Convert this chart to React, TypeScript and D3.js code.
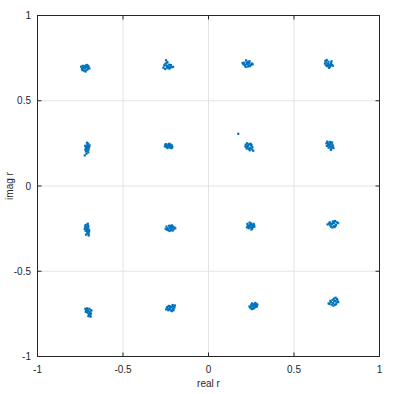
import React from "react";
import * as d3 from "d3";

// cluster centers (real, imag)
const centersRe = [
  -0.722, -0.243, 0.225, 0.699,
  -0.711, -0.237, 0.231, 0.705,
  -0.711, -0.225, 0.243, 0.722,
  -0.705, -0.225, 0.26, 0.728,
];
const centersIm = [
  0.692, 0.704, 0.716, 0.716,
  0.223, 0.235, 0.235, 0.24,
  -0.252, -0.246, -0.235, -0.223,
  -0.733, -0.716, -0.704, -0.686,
];

// scatter of received samples around each center, in units of 1/780 (dRe, dIm pairs)
const scatter: number[][] = [
  [0,0, 8,4, -8,2, 12,-6, -14,-4, 4,12, -4,-12, 16,8, -18,6, 6,-10, 20,-2, -10,10, 2,-16, 10,14, -6,-2, 14,2, -12,-10, 0,8],
  [0,0, -6,10, 8,-4, -12,2, 14,-6, 2,18, -4,26, 22,-6, -16,-8, 10,6, -8,-14, 18,4, 4,-10, -2,12, 28,-4, 12,-12, -10,6, 0,-6],
  [0,0, 10,4, -12,6, 18,-4, -8,-8, 4,-12, -16,-2, 22,2, 6,10, -4,16, 14,-10, -20,4, 8,-6, 0,6, 26,-2, -6,-14, 12,12, -10,-4],
  [0,0, -8,6, 6,-4, -12,14, 10,-10, 18,-6, -4,-10, 2,10, 14,4, -14,2, 22,-8, 8,-14, -10,-6, 4,-18, 16,12, -6,18, 0,-8, 12,0],
  [0,0, 4,8, -6,-4, 2,14, -4,-16, 8,-6, -2,-26, -10,-34, 6,20, 10,4, -8,10, 4,-12, 0,24, -4,4, 6,-20, 12,12, -6,-10, 2,-4],
  [0,0, 8,2, -10,4, 14,-4, -6,-6, 4,8, 18,2, -14,-2, 10,-8, -2,-10, 6,10, 20,-6, -8,8, 2,-4, 12,6, -4,2, 16,-10, -12,6],
  [0,0, 6,8, -8,-4, 10,-10, -4,12, 14,2, -10,6, 4,-14, 18,-16, 24,-22, 8,-20, -2,-8, 12,10, -6,-12, 20,-6, 2,4, 16,4, -12,-2],
  [0,0, -6,10, 8,-6, -10,-4, 12,4, 4,14, -2,-12, 16,-8, 20,-14, -8,16, 10,-16, 6,6, -12,8, 2,-8, 14,12, -4,2, 18,-2, 8,-22],
  [0,0, 6,6, -6,-8, 4,-16, -8,10, 8,-22, 2,20, -4,-26, 10,-4, -10,0, 6,14, 0,-10, 8,-30, -2,8, 4,24, 10,-12, -6,18, 2,-20],
  [0,0, 10,4, -10,-2, 16,-6, -16,6, 4,-10, -4,10, 20,2, -20,-4, 8,12, 12,-12, -8,-10, 2,8, 24,-2, -14,-8, 6,-4, 14,6, -2,-14],
  [0,0, 8,6, -10,2, 14,-4, -6,-10, 4,12, -14,-6, 18,6, 10,-12, -2,16, 20,-2, -12,10, 6,-16, 0,6, 16,10, -8,-4, 12,2, 4,-6],
  [0,0, 10,6, -8,-6, 18,-4, -14,2, 4,12, -4,-12, 22,8, 28,4, 8,-10, -20,-2, 14,14, 2,-16, 12,-14, -10,8, 16,-8, 6,4, -6,2],
  [0,0, -6,8, 8,-6, -10,-4, 12,4, 4,-14, 10,-20, -4,12, 14,-12, -8,4, 6,10, 2,-24, 10,-8, -2,-8, 16,2, 6,-18, -12,10, 12,-26],
  [0,0, 10,6, -10,-2, 18,8, -18,-6, 4,-10, 14,-4, -6,10, 22,12, -14,4, 8,-14, 0,8, 12,14, -8,-10, 4,4, 20,2, -4,-6, 16,-10],
  [0,0, 8,6, -10,-4, 14,4, -4,12, 6,-10, -16,-2, 18,-2, 0,-12, 10,14, -8,6, 4,-6, 16,10, -12,-8, 2,8, 12,-4, -6,-14, 20,6],
  [0,0, 10,10, -10,4, 16,2, -6,-8, 4,20, 12,24, -16,-4, 8,-8, 20,12, -2,14, 14,-6, -12,10, 2,-12, 24,4, 6,8, -20,-2, 18,18],
];

// a stray sample
const strayRe = [0.174];
const strayIm = [0.306];

const xTicks = [-1, -0.5, 0, 0.5, 1];
const yTicks = [-1, -0.5, 0, 0.5, 1];
const xLabel = "real r";
const yLabel = "imag r";

export default function App() {
  const W = 396, H = 394;
  const left = 37.5, right = 379.5, top = 15.5, bottom = 356.5;
  const x = d3.scaleLinear().domain([-1, 1]).range([left, right]);
  const y = d3.scaleLinear().domain([-1, 1]).range([bottom, top]);
  const blue = "#0072BD";
  const pts: { re: number; im: number }[] = [];
  centersRe.forEach((cr, i) => {
    const s = scatter[i];
    for (let k = 0; k < s.length; k += 2) {
      pts.push({ re: cr + s[k] / 780, im: centersIm[i] + s[k + 1] / 780 });
    }
  });
  strayRe.forEach((r, i) => pts.push({ re: r, im: strayIm[i] }));
  const font = "'Liberation Sans', Arial, sans-serif";
  const tickCol = "#262626";
  return (
    <svg width={W} height={H} style={{ position: "absolute", left: 0, top: 0, background: "#fff" }}>
      <rect x={0} y={0} width={W} height={H} fill="#fff" />
      {xTicks.map((t) => (
        <line key={"gx" + t} x1={x(t)} x2={x(t)} y1={top} y2={bottom} stroke="#e3e3e3" strokeWidth={1} />
      ))}
      {yTicks.map((t) => (
        <line key={"gy" + t} x1={left} x2={right} y1={y(t)} y2={y(t)} stroke="#e3e3e3" strokeWidth={1} />
      ))}
      {pts.map((p, i) => (
        <rect key={i} x={x(p.re) - 1.1} y={y(p.im) - 1.1} width={2.2} height={2.2} fill={blue} />
      ))}
      <rect x={left} y={top} width={right - left} height={bottom - top} fill="none" stroke="#262626" strokeWidth={1} />
      {xTicks.map((t) => (
        <g key={"tx" + t}>
          <line x1={x(t)} x2={x(t)} y1={bottom} y2={bottom - 4} stroke="#262626" />
          <line x1={x(t)} x2={x(t)} y1={top} y2={top + 4} stroke="#262626" />
          <text x={x(t)} y={373} textAnchor="middle" fontSize={10} fontFamily={font} fill={tickCol}>
            {String(t)}
          </text>
        </g>
      ))}
      {yTicks.map((t) => (
        <g key={"ty" + t}>
          <line x1={left} x2={left + 4} y1={y(t)} y2={y(t)} stroke="#262626" />
          <line x1={right} x2={right - 4} y1={y(t)} y2={y(t)} stroke="#262626" />
          <text x={31} y={y(t) + 3.5} textAnchor="end" fontSize={10} fontFamily={font} fill={tickCol}>
            {String(t)}
          </text>
        </g>
      ))}
      <text x={(left + right) / 2} y={387} textAnchor="middle" fontSize={10} fontFamily={font} fill={tickCol}>
        {xLabel}
      </text>
      <text
        transform={`translate(13,${(top + bottom) / 2}) rotate(-90)`}
        textAnchor="middle"
        fontSize={10}
        fontFamily={font}
        fill={tickCol}
      >
        {yLabel}
      </text>
    </svg>
  );
}
